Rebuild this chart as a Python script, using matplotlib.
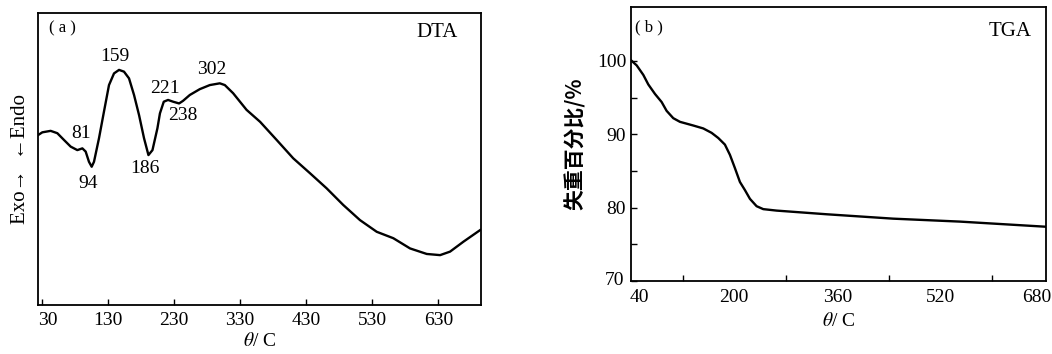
import matplotlib
matplotlib.use("Agg")
import matplotlib.pyplot as plt
import matplotlib.transforms as mtransforms

plt.rcParams["font.family"] = ["Liberation Serif", "Noto Sans CJK SC", "DejaVu Sans"]
plt.rcParams["mathtext.fontset"] = "stix"

# (a) DTA curve, arbitrary units
dta_T = [24.5, 30.6, 43.2, 53.3, 63.3, 73.5, 83.6, 91.2, 96.2, 101.2, 105.3,
         108.8, 116.4, 123.9, 131.5, 139.1, 146.7, 154.2, 161.8, 169.4, 177,
         184.5, 191.2, 197.3, 204.8, 208.6, 214.4, 220.9, 228.5, 237.6, 243.6,
         253.8, 268.9, 284.1, 299.2, 306.8, 319.4, 339.7, 360.2, 385.2, 410.3,
         435.6, 460.9, 486, 511.4, 536.7, 561.8, 587.1, 612.4, 632.6, 647.7,
         667.9, 693.3]
dta_s = [58.3, 59.2, 59.7, 58.9, 56.6, 54.3, 53.1, 53.7, 52.6, 49.1, 47.4,
         49.1, 57.2, 66.3, 75.4, 79.4, 80.6, 80.0, 77.7, 72.0, 65.1, 57.2,
         51.4, 53.1, 60.6, 65.7, 69.7, 70.3, 69.7, 69.1, 70.0, 72.0, 74.0,
         75.4, 76.0, 75.4, 72.6, 66.9, 62.8, 56.6, 50.3, 45.2, 40.0, 34.3,
         29.1, 25.1, 22.9, 19.4, 17.5, 17.1, 18.3, 21.7, 25.7]
dta_peaks = ["81", "94", "159", "186", "221", "238", "302"]
peak_xy = [(89.6, 58.9), (100.5, 41.7), (140, 85.1), (185.6, 46.9),
           (216, 74.3), (242.6, 65.1), (286.6, 80.6)]
dta_ticks = [30, 130, 230, 330, 430, 530, 630]

# (b) TGA curve
tga_T = [40, 48.8, 59.1, 66.8, 77.2, 87.5, 95.2, 105.5, 115.9, 136.5, 152,
         164.9, 175.2, 185.5, 193.3, 201, 208.8, 216.5, 224.3, 234.6, 244.9,
         265.5, 343, 446.2, 549.4, 682.6]
tga_w = [100.1, 99.4, 98.1, 96.8, 95.5, 94.4, 93.2, 92.2, 91.7, 91.2, 90.8,
         90.2, 89.5, 88.6, 87.2, 85.4, 83.5, 82.4, 81.2, 80.2, 79.8, 79.6,
         79.1, 78.5, 78.1, 77.4]
tga_ticks = [40, 200, 360, 520, 680]
tga_minor = [120, 200, 280, 440, 600]
tga_yticks = [70, 80, 90, 100]

fig = plt.figure(figsize=(10.52, 3.54), dpi=100)


def shift(label, dx, dy=0):
    label.set_transform(label.get_transform()
                        + mtransforms.ScaledTranslation(dx / 100, dy / 100, fig.dpi_scale_trans))


# left panel
ax1 = fig.add_axes([0.0364, 0.1384, 0.4205, 0.824])
ax1.plot(dta_T, dta_s, color="black", lw=1.7)
ax1.set_xlim(24.5, 694)
ax1.set_ylim(0, 100)
ax1.set_xticks(dta_ticks)
ax1.set_yticks([])
ax1.tick_params(axis="x", direction="in", length=4, width=1, labelsize=14, pad=5)
shift(ax1.get_xticklabels()[0], 6)
for lab, (x, y) in zip(dta_peaks, peak_xy):
    ax1.text(x, y, lab, fontsize=14, ha="center", va="center")
ax1.text(41, 95, "( a )", fontsize=12, ha="left", va="center")
ax1.text(660, 93.5, "DTA", fontsize=15, ha="right", va="center")
ax1.set_xlabel(r"$\theta$/ C", fontsize=14, labelpad=2)
ax1.set_ylabel("Exo\u2192  \u2190Endo", fontsize=15, labelpad=6)
for s in ax1.spines.values():
    s.set_linewidth(1.3)

# right panel
ax2 = fig.add_axes([0.5998, 0.2062, 0.3945, 0.7749])
ax2.plot(tga_T, tga_w, color="black", lw=1.7)
ax2.set_xlim(40, 683)
ax2.set_ylim(70, 107.4)
ax2.set_xticks(tga_ticks)
ax2.set_xticks(tga_minor, minor=True)
ax2.set_yticks(tga_yticks)
ax2.set_yticks([75, 85, 95], minor=True)
ax2.tick_params(axis="x", which="major", length=0, labelsize=14, pad=6)
ax2.tick_params(axis="x", which="minor", direction="in", length=4, width=1)
ax2.tick_params(axis="y", which="major", direction="in", length=4, width=1, labelsize=14)
ax2.tick_params(axis="y", which="minor", direction="in", length=4, width=1)
shift(ax2.get_xticklabels()[0], 8)
shift(ax2.get_xticklabels()[-1], -7)
shift(ax2.get_yticklabels()[0], -2, 3)
ax2.text(46, 104.6, "( b )", fontsize=12, ha="left", va="center")
ax2.text(660, 104.0, "TGA", fontsize=15, ha="right", va="center")
ax2.set_xlabel(r"$\theta$/ C", fontsize=14, labelpad=4)
ax2.set_ylabel("失重百分比/%", fontsize=15, fontweight="bold",
               family=["Noto Sans CJK SC", "DejaVu Sans"], labelpad=8)
for s in ax2.spines.values():
    s.set_linewidth(1.3)

fig.savefig("out.png", dpi=100)
